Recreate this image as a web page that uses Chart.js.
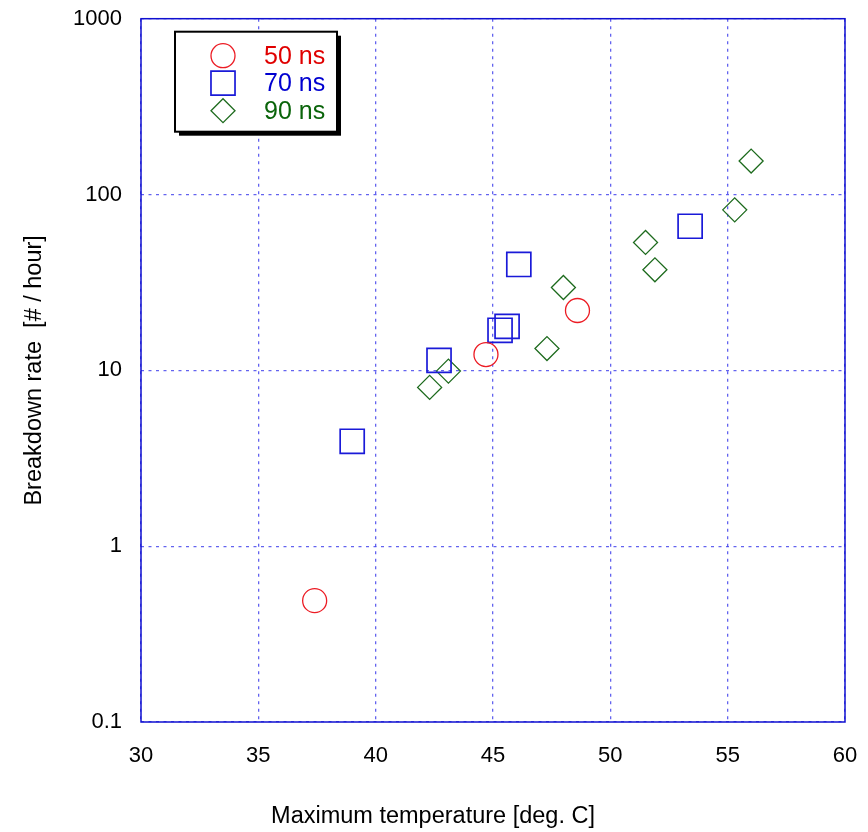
<!DOCTYPE html>
<html>
<head>
<meta charset="utf-8">
<script src="https://cdn.jsdelivr.net/npm/chart.js@4/dist/chart.umd.min.js"></script>
<style>
  html, body { margin: 0; padding: 0; background: #fff; }
  #wrap { width: 868px; height: 832px; position: relative; }
</style>
</head>
<body>
<div id="wrap"><canvas id="breakdownChart"></canvas></div>
<script>
// data
const temp50 = [37.4, 44.7, 48.6];
const rate50 = [0.49, 12.3, 21.9];
const temp70 = [39.0, 42.7, 45.3, 45.6, 46.1, 53.4];
const rate70 = [3.95, 11.4, 16.9, 17.8, 40, 66];
const temp90 = [42.3, 43.1, 47.3, 48.0, 51.5, 51.9, 55.3, 56.0];
const rate90 = [8.0, 9.9, 13.3, 29.6, 53.4, 37.3, 81.8, 155];
const seriesNames = ['50 ns', '70 ns', '90 ns'];
const yTicks = [0.1, 1, 10, 100, 1000];
const xTitle = 'Maximum temperature [deg. C]';
const yTitle = 'Breakdown rate  [# / hour]';

const FONT = "'Liberation Sans', Arial, sans-serif";
const gridBlue = 'rgba(60, 60, 235, 0.8)';

function toPoints(xs, ys) {
    return xs.map((x, i) => ({ x: x, y: ys[i] }));
}

// keep the label padding from pushing the plot edges in
function noEdgePadding(s) {
    s.paddingTop = 0;
    s.paddingBottom = 0;
    s.paddingLeft = 0;
    s.paddingRight = 0;
}

// frame round the plot area (solid, all four sides)
const framePlugin = {
    id: 'frame',
    beforeDatasetsDraw(chart) {
        const a = chart.chartArea;
        const ctx = chart.ctx;
        ctx.save();
        ctx.strokeStyle = '#1010d0';
        ctx.lineWidth = 1.5;
        ctx.strokeRect(a.left, a.top, a.right - a.left, a.bottom - a.top);
        ctx.restore();
    }
};

// x axis title sits left of the plot centre in the original
const xTitlePlugin = {
    id: 'xTitle',
    afterDraw(chart) {
        const a = chart.chartArea;
        const ctx = chart.ctx;
        ctx.save();
        ctx.font = '23.5px ' + FONT;
        ctx.fillStyle = '#000';
        ctx.textAlign = 'center';
        ctx.textBaseline = 'alphabetic';
        ctx.fillText(xTitle, a.left + 292, a.bottom + 101);
        ctx.restore();
    }
};

// boxed legend inside the plot, with a drop shadow
const boxLegend = {
    id: 'boxLegend',
    afterDraw(chart) {
        const a = chart.chartArea;
        const ctx = chart.ctx;
        const bx = a.left + 34, by = a.top + 13, bw = 162, bh = 100;
        ctx.save();
        ctx.fillStyle = '#000';
        ctx.fillRect(bx + 4, by + 4, bw, bh);
        ctx.fillStyle = '#fff';
        ctx.fillRect(bx, by, bw, bh);
        ctx.strokeStyle = '#000';
        ctx.lineWidth = 2;
        ctx.strokeRect(bx, by, bw, bh);

        ctx.font = '25px ' + FONT;
        ctx.textBaseline = 'middle';
        ctx.textAlign = 'left';
        chart.data.datasets.forEach((ds, i) => {
            const cy = by + 24 + i * 27.5;
            const cx = bx + 48;
            const opts = {
                pointStyle: ds.pointStyle,
                radius: ds.pointRadius,
                borderWidth: ds.pointBorderWidth,
                rotation: 0
            };
            ctx.strokeStyle = ds.borderColor;
            ctx.fillStyle = 'rgba(0,0,0,0)';
            ctx.lineWidth = ds.pointBorderWidth;
            Chart.helpers.drawPoint(ctx, opts, cx, cy);
            ctx.fillStyle = ds.labelColor;
            ctx.fillText(ds.label, bx + 89, cy + 1);
        });
        ctx.restore();
    }
};

const ctx = document.getElementById('breakdownChart').getContext('2d');
const chartInstance = new Chart(ctx, {
    type: 'scatter',
    data: {
        datasets: [{
            label: seriesNames[0],
            data: toPoints(temp50, rate50),
            pointStyle: 'circle',
            pointRadius: 12,
            pointBorderWidth: 1.3,
            borderColor: '#ec1c24',
            backgroundColor: 'rgba(0,0,0,0)',
            labelColor: '#e00000'
        }, {
            label: seriesNames[1],
            data: toPoints(temp70, rate70),
            pointStyle: 'rect',
            pointRadius: 17,
            pointBorderWidth: 1.7,
            borderColor: '#1a1ad8',
            backgroundColor: 'rgba(0,0,0,0)',
            labelColor: '#0000d0'
        }, {
            label: seriesNames[2],
            data: toPoints(temp90, rate90),
            pointStyle: 'rectRot',
            pointRadius: 12,
            pointBorderWidth: 1.3,
            borderColor: '#1e6b1e',
            backgroundColor: 'rgba(0,0,0,0)',
            labelColor: '#0a640a'
        }]
    },
    options: {
        responsive: true,
        maintainAspectRatio: false,
        animation: false,
        events: [],
        layout: { padding: { top: 18, right: 23, left: 0, bottom: 0 } },
        plugins: {
            legend: { display: false },
            tooltip: { enabled: false }
        },
        scales: {
            x: {
                type: 'linear',
                min: 30,
                max: 60,
                afterFit: s => { s.height = 110; noEdgePadding(s); },
                ticks: {
                    stepSize: 5,
                    color: '#000',
                    padding: 21,
                    font: { family: FONT, size: 22 }
                },
                grid: { color: gridBlue, lineWidth: 1.3, drawTicks: false, tickBorderDash: [3, 4.5] },
                border: { display: false, dash: [3, 4.5] },
                title: { display: false }
            },
            y: {
                type: 'logarithmic',
                min: 0.1,
                max: 1000,
                afterFit: s => { s.width = 141; noEdgePadding(s); },
                afterBuildTicks: s => { s.ticks = yTicks.map(v => ({ value: v })); },
                ticks: {
                    color: '#000',
                    padding: 19,
                    font: { family: FONT, size: 22 },
                    callback: v => String(v)
                },
                grid: { color: gridBlue, lineWidth: 1.3, drawTicks: false },
                border: { display: false, dash: [3, 4.5] },
                title: {
                    display: true,
                    text: yTitle,
                    color: '#000',
                    padding: { top: 20, bottom: 20 },
                    font: { family: FONT, size: 23.5 }
                }
            }
        }
    },
    plugins: [framePlugin, xTitlePlugin, boxLegend]
});
</script>
</body>
</html>
